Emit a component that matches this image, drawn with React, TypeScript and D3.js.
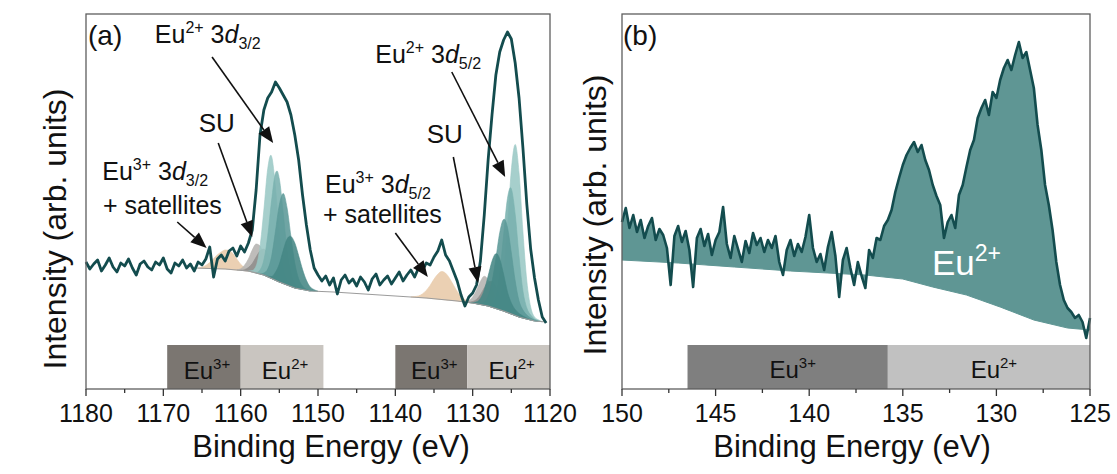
import React from 'react';
import * as d3 from 'd3';

const FONT = "'Liberation Sans', Arial, Helvetica, sans-serif";

// ---------- panel (a): Eu 3d region, spectrum sampled every 0.5 eV from 1180 eV down
const specAStart = 1180;
const specAStep = 0.5;
const specA = [
  127, 120, 125, 129, 118, 124, 131, 122, 117, 126, 123, 130, 121, 114, 125, 128, 122, 119, 127, 124,
  131, 120, 116, 126, 123, 129, 121, 125, 118, 127, 124, 130, 142, 112, 130, 134, 128, 138, 141, 133,
  143, 137, 146, 159, 199, 254, 279, 291, 297, 307, 301, 294, 287, 274, 254, 229, 194, 164, 139, 121,
  114, 108, 113, 104, 111, 95, 109, 114, 106, 110, 103, 112, 107, 99, 110, 115, 104, 109, 113, 105,
  111, 117, 108, 114, 119, 112, 121, 118, 126, 124, 132, 138, 149, 134, 128, 118, 108, 94, 83, 92,
  96, 104, 128, 174, 229, 274, 314, 337, 349, 357, 350, 326, 291, 241, 185, 140, 111, 89, 72, 66,
];

// Shirley-type background under the fit
const bgAE = [1166, 1162, 1159, 1157, 1155, 1153, 1151, 1148, 1144, 1140, 1136, 1132, 1130, 1128, 1126, 1124, 1122, 1120.5];
const bgAV = [121, 120, 118, 114, 107, 101, 98, 97, 95, 93, 91, 88, 86, 83, 78, 72, 68, 67];

// fitted components: [binding energy, height above background]
const tan32 = [[1165.5, 0], [1165, 1], [1164.5, 3], [1164, 6], [1163.5, 10], [1163, 14], [1162.5, 17], [1162, 19], [1161.5, 19], [1161, 16], [1160.5, 11], [1160, 6], [1159.5, 3], [1159, 1], [1158.5, 0]];
const greyA32 = [[1160.5, 0], [1160, 1.5], [1159.5, 5.5], [1159, 12], [1158.5, 22], [1158, 29], [1157.5, 28], [1157, 20], [1156.5, 10.5], [1156, 4], [1155.5, 1.2], [1155, 0]];
const greyB32 = [[1160, 0], [1159.5, 1], [1159, 3.5], [1158.5, 8.5], [1158, 16], [1157.5, 23], [1157, 26], [1156.5, 23], [1156, 17], [1155.5, 10], [1155, 5], [1154.5, 2], [1154, 0.5], [1153.5, 0]];
const teal1_32 = [[1159, 0], [1158.5, 1.4], [1158, 7], [1157.5, 27], [1157, 65], [1156.5, 108], [1156.1, 123], [1156, 122], [1155.5, 93], [1155, 48], [1154.5, 18], [1154, 6], [1153.5, 2], [1153, 0]];
const teal2_32 = [[1158, 0], [1157.5, 4], [1157, 15], [1156.5, 41], [1156, 78], [1155.5, 107], [1155.3, 110], [1155, 103], [1154.5, 71], [1154, 35], [1153.5, 14], [1153, 5], [1152.5, 2], [1152, 0]];
const teal3_32 = [[1157.5, 0], [1157, 2], [1156.5, 7.7], [1156, 22], [1155.5, 49], [1155, 77], [1154.5, 90], [1154, 77], [1153.5, 50], [1153, 25], [1152.5, 10], [1152, 3.5], [1151.5, 1], [1151, 0]];
const teal4_32 = [[1157, 0], [1156.5, 0.5], [1156, 2], [1155.5, 8], [1155, 18], [1154.5, 33], [1154, 46], [1153.6, 50], [1153, 45], [1152.5, 33], [1152, 20], [1151.5, 10], [1151, 4], [1150.5, 1.5], [1150, 0]];

const tan52 = [[1138, 0], [1137.5, 0.7], [1137, 1.6], [1136.5, 3.8], [1136, 7.6], [1135.5, 13], [1135, 19.6], [1134.5, 25], [1134, 28], [1133.5, 26.7], [1133, 22], [1132.5, 15.7], [1132, 9.6], [1131.5, 5], [1131, 2.3], [1130.5, 1], [1130, 0]];
const greyA52 = [[1131.5, 0], [1131, 0.5], [1130.5, 1.9], [1130, 6], [1129.5, 13.7], [1129, 23], [1128.5, 29], [1128, 26], [1127.5, 17.6], [1127, 8.6], [1126.5, 3.1], [1126, 1], [1125.5, 0]];
const greyB52 = [[1131, 0], [1130.5, 0.4], [1130, 1.5], [1129.5, 4.3], [1129, 9.8], [1128.5, 17.3], [1128, 24], [1127.5, 26], [1127, 21.7], [1126.5, 14.2], [1126, 7.5], [1125.5, 4.5], [1125, 3], [1124.5, 2], [1124, 1], [1123, 0]];
const teal1_52 = [[1127.5, 0], [1127, 2.3], [1126.5, 10.7], [1126, 36], [1125.5, 86], [1125, 144], [1124.5, 171], [1124, 144], [1123.5, 86], [1123, 38], [1122.5, 13], [1122, 4], [1121.5, 1.5], [1121, 0]];
const teal2_52 = [[1128.5, 0], [1128, 0.7], [1127.5, 3.6], [1127, 13.6], [1126.5, 37.5], [1126, 76], [1125.5, 114], [1125.1, 126], [1125, 125], [1124.5, 101], [1124, 60], [1123.5, 27], [1123, 11], [1122.5, 5], [1122, 2], [1121.5, 0.5], [1121, 0]];
const teal3_52 = [[1129.5, 0], [1129, 0.7], [1128.5, 3.1], [1128, 10], [1127.5, 25.6], [1127, 50], [1126.5, 77], [1126, 91.5], [1125.9, 92], [1125.5, 85], [1125, 61], [1124.5, 34.5], [1124, 16], [1123.5, 8], [1123, 4], [1122.5, 2], [1122, 1], [1121.5, 0]];
const teal4_52 = [[1130.5, 0], [1130, 0.4], [1129.5, 1.9], [1129, 6], [1128.5, 15.3], [1128, 30], [1127.5, 46], [1127, 54.7], [1126.9, 55], [1126.5, 50.8], [1126, 36.7], [1125.5, 20.6], [1125, 11], [1124.5, 6], [1124, 3.5], [1123.5, 2], [1123, 1], [1122.5, 0]];

const componentsA = [
  { pts: tan32, fill: '#e8caa8' },
  { pts: tan52, fill: '#e8caa8' },
  { pts: greyA32, fill: '#b5b3b0' },
  { pts: greyA52, fill: '#b5b3b0' },
  { pts: greyB32, fill: '#8f8d8b' },
  { pts: greyB52, fill: '#8f8d8b' },
  { pts: teal1_32, fill: '#9ac8c5' },
  { pts: teal1_52, fill: '#9ac8c5' },
  { pts: teal2_32, fill: '#79b1ae' },
  { pts: teal2_52, fill: '#79b1ae' },
  { pts: teal3_32, fill: '#5b9997' },
  { pts: teal3_52, fill: '#5b9997' },
  { pts: teal4_32, fill: '#448684' },
  { pts: teal4_52, fill: '#448684' },
];

// ---------- panel (b): spectrum sampled every 0.2 eV from 150 eV down
const specBStart = 150;
const specBStep = 0.2;
const specB = [
  167, 181, 161, 174, 157, 169, 151, 163, 171, 149, 160, 154, 141, 104, 153, 163, 147, 158, 139, 102,
  151, 160, 143, 155, 134, 149, 157, 182, 145, 131, 153, 140, 127, 148, 136, 156, 144, 151, 137, 149,
  141, 153, 127, 114, 139, 149, 133, 145, 137, 152, 174, 141, 127, 135, 119, 142, 157, 133, 92, 129,
  141, 121, 104, 127, 113, 101, 139, 131, 151, 149, 163, 169, 179, 197, 211, 224, 234, 241, 247, 237,
  244, 229, 219, 204, 193, 184, 151, 167, 174, 161, 194, 204, 222, 239, 249, 271, 281, 289, 274, 297,
  291, 309, 321, 329, 319, 334, 347, 331, 337, 319, 301, 264, 239, 204, 184, 159, 127, 104, 89, 81,
  77, 71, 74, 67, 51, 71,
];
const bgBE = [150, 147, 144, 141, 139, 137, 135, 133.4, 131.6, 129.8, 128, 126.2, 125];
const bgBV = [129, 126, 122, 118, 116, 114, 110, 102, 94, 82, 69, 61, 59];

// oxidation-state bars along the bottom
const bandTopV = 44;
const bandsA = [
  { from: 1169.5, to: 1160, ion: '3+', fill: '#7b7671' },
  { from: 1160, to: 1149.3, ion: '2+', fill: '#c9c5c0' },
  { from: 1140, to: 1130.7, ion: '3+', fill: '#7b7671' },
  { from: 1130.7, to: 1120, ion: '2+', fill: '#c9c5c0' },
];
const bandsB = [
  { from: 146.5, to: 135.8, ion: '3+', fill: '#7f7f7f' },
  { from: 135.8, to: 125, ion: '2+', fill: '#c1c1c1' },
];

// arrows: [E start, I start, E tip, I tip]
const arrowsA = [
  [1163.7, 332, 1155.8, 246],
  [1162.9, 246, 1158.5, 152],
  [1168.2, 167, 1164.4, 141],
  [1132.7, 317, 1125.8, 212],
  [1132.5, 232, 1129.3, 106],
  [1140.0, 156, 1135.8, 112],
];

const W = 1117;
const H = 474;
const xA = d3.scaleLinear().domain([1180, 1120]).range([86, 550]);
const xB = d3.scaleLinear().domain([150, 125]).range([622, 1090]);
const y = d3.scaleLinear().domain([0, 375]).range([389, 14]);
const bgA = d3.scaleLinear().domain(bgAE).range(bgAV).clamp(true);
const bgB = d3.scaleLinear().domain(bgBE).range(bgBV).clamp(true);

const LINE = '#134c4e';

function Arrow({ x1, y1, x2, y2 }: { x1: number; y1: number; x2: number; y2: number }) {
  const a = Math.atan2(y2 - y1, x2 - x1);
  const L = 16, w = 6.5;
  const bx = x2 - L * Math.cos(a), by = y2 - L * Math.sin(a);
  const p = [
    [x2, y2],
    [bx + w * Math.sin(a), by - w * Math.cos(a)],
    [bx - w * Math.sin(a), by + w * Math.cos(a)],
  ];
  return (
    <g>
      <line x1={x1} y1={y1} x2={bx} y2={by} stroke="#111" strokeWidth={1.6} />
      <polygon points={p.map(d => d.join(',')).join(' ')} fill="#111" />
    </g>
  );
}

function Label({ x, yy, ion, state, sub, size = 25, anchor = 'start' }: any) {
  const s = Math.round(size * 0.64);
  return (
    <text x={x} y={yy} fontSize={size} textAnchor={anchor} fill="#111">
      Eu<tspan dy={-10} fontSize={s}>{ion}</tspan>
      {state !== undefined ? (
        <>
          <tspan dy={10}> 3</tspan>
          <tspan fontStyle="italic">d</tspan>
          <tspan dy={6} fontSize={s}>{sub}</tspan>
        </>
      ) : null}
    </text>
  );
}

function Axis({ x, majors, minors, fmt }: any) {
  return (
    <g>
      {minors.map((t: number) => (
        <line key={'m' + t} x1={x(t)} x2={x(t)} y1={389} y2={393} stroke="#333" strokeWidth={1.3} />
      ))}
      {majors.map((t: number) => (
        <g key={'M' + t}>
          <line x1={x(t)} x2={x(t)} y1={389} y2={396} stroke="#333" strokeWidth={1.3} />
          <text x={x(t)} y={422} fontSize={25} textAnchor="middle" fill="#111">{fmt(t)}</text>
        </g>
      ))}
    </g>
  );
}

export default function App() {
  const eA = (i: number) => specAStart - i * specAStep;
  const eB = (i: number) => specBStart - i * specBStep;

  const lineA = d3.line<number>().x((_, i) => xA(eA(i))).y(d => y(d));
  const compArea = d3
    .area<number[]>()
    .x(d => xA(d[0]))
    .y0(d => y(bgA(d[0])))
    .y1(d => y(bgA(d[0]) + d[1]))
    .curve(d3.curveMonotoneX);
  const bgLineA = d3.line<number>().x(d => xA(d)).y(d => y(bgA(d)));

  const areaB = d3
    .area<number>()
    .x((_, i) => xB(eB(i)))
    .y0((_, i) => y(bgB(eB(i))))
    .y1(d => y(d));
  const lineB = d3.line<number>().x((_, i) => xB(eB(i))).y(d => y(d));
  const bgLineB = d3.line<number>().x(d => xB(d)).y(d => y(bgB(d)));

  const bandY = y(bandTopV);

  return (
    <svg width={W} height={H} style={{ position: 'absolute', left: 0, top: 0, background: '#fff' }} fontFamily={FONT}>
      {/* ---------------- panel (a) ---------------- */}
      <g>
        {componentsA.map((c, i) => (
          <path
            key={i}
            d={compArea([...c.pts].sort((a, b) => b[0] - a[0])) || ''}
            fill={c.fill}
            fillOpacity={0.88}
            stroke={c.fill}
            strokeWidth={0.6}
          />
        ))}
        <path d={bgLineA(bgAE) || ''} fill="none" stroke="#9c9c9c" strokeWidth={1.2} />
        <path d={lineA(specA) || ''} fill="none" stroke={LINE} strokeWidth={2.8} strokeLinejoin="round" />

        {bandsA.map((b, i) => (
          <g key={i}>
            <rect x={xA(b.from)} y={bandY} width={xA(b.to) - xA(b.from)} height={389 - bandY} fill={b.fill} />
            <Label x={(xA(b.from) + xA(b.to)) / 2 + 3} yy={379} ion={b.ion} size={24} anchor="middle" />
          </g>
        ))}

        {arrowsA.map((a, i) => (
          <Arrow key={i} x1={xA(a[0])} y1={y(a[1])} x2={xA(a[2])} y2={y(a[3])} />
        ))}

        <Label x={xA(1171.1)} yy={y(346)} ion="2+" state sub="3/2" />
        <text x={xA(1163.1)} y={y(257)} fontSize={26} textAnchor="middle" fill="#111">SU</text>
        <Label x={xA(1177.9)} yy={y(209)} ion="3+" state sub="3/2" />
        <text x={xA(1177.8)} y={y(175)} fontSize={25} fill="#111">+ satellites</text>

        <Label x={xA(1142.6)} yy={y(326)} ion="2+" state sub="5/2" />
        <text x={xA(1133.6)} y={y(246)} fontSize={26} textAnchor="middle" fill="#111">SU</text>
        <Label x={xA(1149.1)} yy={y(196)} ion="3+" state sub="5/2" />
        <text x={xA(1149.35)} y={y(166)} fontSize={25} fill="#111">+ satellites</text>

        <rect x={86} y={14} width={464} height={375} fill="none" stroke="#5e5e5e" strokeWidth={1.3} />
        <Axis x={xA} majors={d3.range(1180, 1119, -10)} minors={d3.range(1175, 1120, -10)} fmt={(t: number) => String(t)} />
        <text x={88} y={45} fontSize={28} fill="#111">(a)</text>
        <text x={331} y={457} fontSize={31} textAnchor="middle" fill="#111">Binding Energy (eV)</text>
        <text transform="translate(66,229) rotate(-90)" fontSize={32} textAnchor="middle" fill="#111">Intensity (arb. units)</text>
      </g>

      {/* ---------------- panel (b) ---------------- */}
      <g>
        <path d={areaB(specB) || ''} fill="#5f9694" />
        <path d={bgLineB(bgBE) || ''} fill="none" stroke="#5f9694" strokeWidth={1} />
        <path d={lineB(specB) || ''} fill="none" stroke={LINE} strokeWidth={2.6} strokeLinejoin="round" />
        <text x={xB(133.44)} y={y(114)} fontSize={35} fill="#fff">
          Eu<tspan dy={-14} fontSize={23}>2+</tspan>
        </text>

        {bandsB.map((b, i) => (
          <g key={i}>
            <rect x={xB(b.from)} y={bandY} width={xB(b.to) - xB(b.from)} height={389 - bandY} fill={b.fill} />
            <Label x={(xB(b.from) + xB(b.to)) / 2 + 5} yy={378} ion={b.ion} size={24} anchor="middle" />
          </g>
        ))}

        <rect x={622} y={14} width={468} height={375} fill="none" stroke="#5e5e5e" strokeWidth={1.3} />
        <Axis x={xB} majors={d3.range(150, 124, -5)} minors={d3.range(147.5, 125, -5)} fmt={(t: number) => String(t)} />
        <text x={623} y={45} fontSize={28} fill="#111">(b)</text>
        <text x={852} y={457} fontSize={31} textAnchor="middle" fill="#111">Binding Energy (eV)</text>
        <text transform="translate(606,215) rotate(-90)" fontSize={32} textAnchor="middle" fill="#111">Intensity (arb. units)</text>
      </g>
    </svg>
  );
}
